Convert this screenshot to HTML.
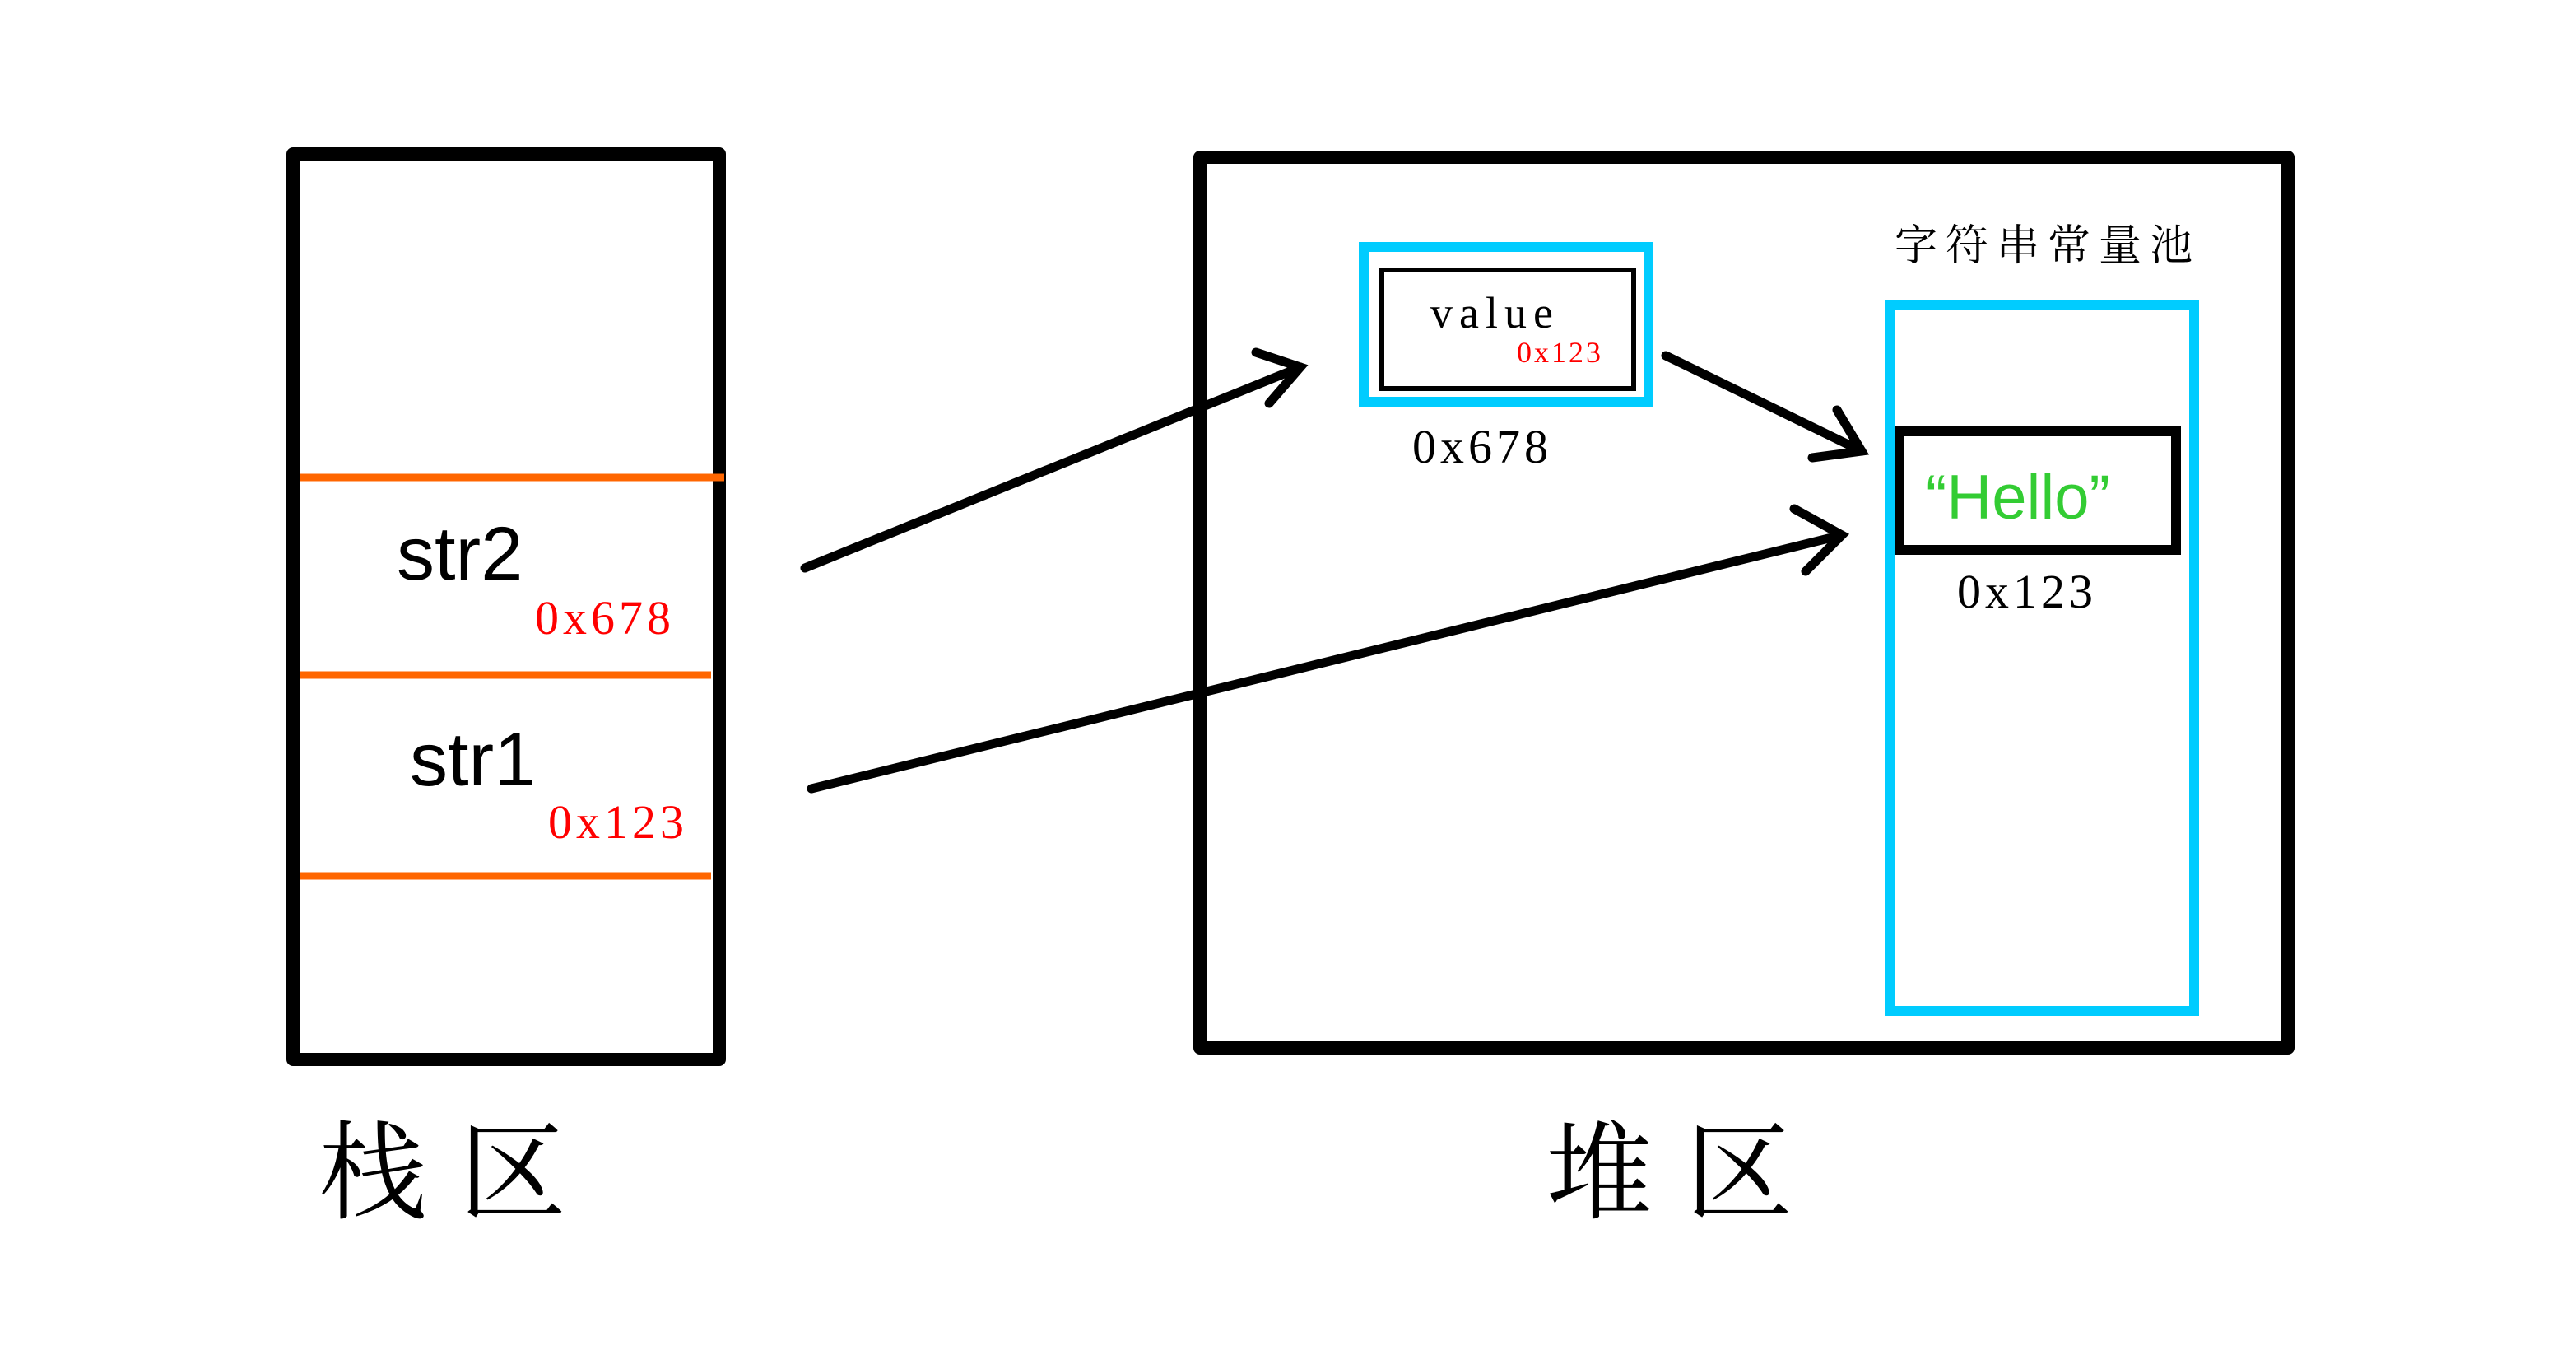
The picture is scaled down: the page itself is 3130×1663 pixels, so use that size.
<!DOCTYPE html>
<html><head><meta charset="utf-8"><style>
html,body{margin:0;padding:0;background:#fff;}
svg{display:block}
.s{font-family:"Liberation Serif","Noto Serif CJK SC",serif;}
.a{font-family:"Liberation Sans","Noto Sans CJK SC",sans-serif;}
</style></head><body>
<svg width="3130" height="1663" viewBox="0 0 3130 1663" xmlns="http://www.w3.org/2000/svg">
<rect width="3130" height="1663" fill="#fff"/>
<!-- stack -->
<rect x="356" y="187" width="518" height="1100" fill="none" stroke="#000" stroke-width="16" stroke-linejoin="round"/>
<g stroke="#ff6600" stroke-width="9">
<line x1="364" y1="580" x2="880" y2="580"/>
<line x1="364" y1="820" x2="864" y2="820"/>
<line x1="364" y1="1064" x2="864" y2="1064"/>
</g>
<text x="482" y="704" class="a" font-size="92" fill="#000">str2</text>
<text x="650" y="770" class="s" font-size="58" fill="#ff0000" letter-spacing="5">0x678</text>
<text x="498" y="954" class="a" font-size="92" fill="#000">str1</text>
<text x="666" y="1018" class="s" font-size="58" fill="#ff0000" letter-spacing="5">0x123</text>
<!-- heap -->
<rect x="1458" y="191" width="1322" height="1082" fill="none" stroke="#000" stroke-width="16" stroke-linejoin="round"/>
<rect x="1657" y="300" width="346" height="188" fill="none" stroke="#00ccff" stroke-width="12"/>
<rect x="1679" y="328" width="306" height="144" fill="none" stroke="#000" stroke-width="6"/>
<text x="1738" y="398" class="s" font-size="54" fill="#000" letter-spacing="8">value</text>
<text x="1843" y="440" class="s" font-size="36" fill="#ff0000" letter-spacing="3">0x123</text>
<text x="1716" y="562" class="s" font-size="58" fill="#000" letter-spacing="5">0x678</text>
<text x="2302" y="316" class="s" font-size="52" fill="#000" letter-spacing="10">字符串常量池</text>
<rect x="2296" y="370" width="370" height="858" fill="none" stroke="#00ccff" stroke-width="12"/>
<rect x="2308" y="524" width="336" height="144" fill="none" stroke="#000" stroke-width="12"/>
<text x="2340" y="630" class="a" font-size="76" fill="#33cc33">“Hello”</text>
<text x="2378" y="738" class="s" font-size="58" fill="#000" letter-spacing="5">0x123</text>
<!-- arrows -->
<g stroke="#000" stroke-width="11" fill="none" stroke-linecap="round">
<line x1="978" y1="690" x2="1580" y2="446"/>
<polyline points="1526,428 1580,446 1542,490"/>
<line x1="2024" y1="432" x2="2262" y2="548"/>
<polyline points="2232,498 2262,548 2202,556"/>
<line x1="986" y1="958" x2="2238" y2="650"/>
<polyline points="2180,618 2238,650 2194,694"/>
</g>
<text x="388" y="1470" class="s" font-size="130" fill="#000" letter-spacing="40">栈区</text>
<text x="1878" y="1470" class="s" font-size="130" fill="#000" letter-spacing="40">堆区</text>
</svg>
</body></html>
